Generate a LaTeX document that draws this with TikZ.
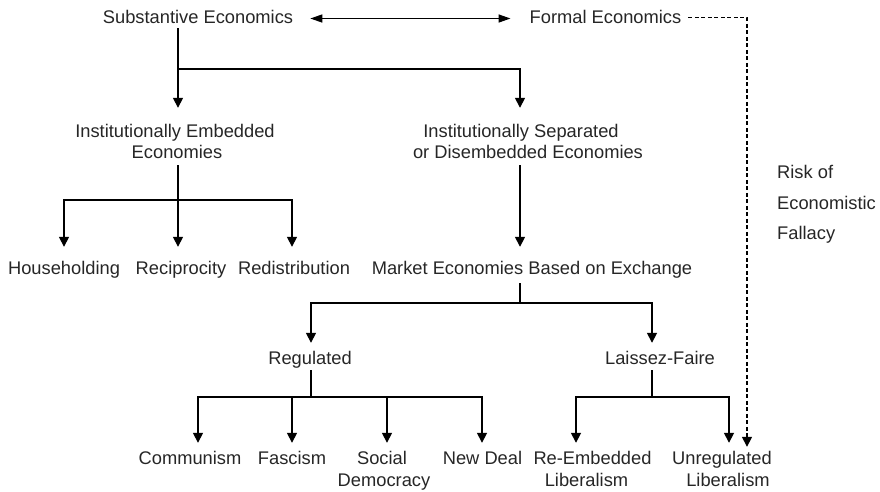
\documentclass[tikz,border=0pt]{standalone}
\usepackage{fontspec}
\setmainfont{Liberation Sans}
\usetikzlibrary{arrows.meta,calc}
\definecolor{txt}{HTML}{262626}
\tikzset{
  lbl/.style={inner sep=0pt, anchor=base, text height=13pt, text depth=4pt, text=txt, font=\fontsize{18.3}{22}\selectfont},
  lblw/.style={lbl, anchor=base west},
  ln/.style={line width=1.6pt, black},
  arr/.style={ln, -{Triangle[width=10pt,length=10pt]}},
  dbl/.style={line width=1.4pt, black, {Triangle[width=8pt,length=12pt]}-{Triangle[width=8pt,length=12pt]}},
  dsh/.style={line width=1.5pt, black, dash pattern=on 4pt off 2.5pt, -{Triangle[width=10pt,length=10pt]}}
}
\begin{document}
\begin{tikzpicture}[x=1pt,y=-1pt]
\useasboundingbox (0,0) rectangle (880,491);
% nodes
\node[lbl] (sub) at (198,23) {Substantive Economics};
\node[lbl] (formal) at (605.5,23) {Formal Economics};
\node[lbl] (emb) at (175,137) {Institutionally Embedded};
\node[lbl] (emb2) at (177,158) {Economies};
\node[lbl] (sep) at (521,137) {Institutionally Separated};
\node[lbl] (sep2) at (528,158) {or Disembedded Economies};
\node[lblw] (risk1) at (777,178) {Risk of};
\node[lblw] (risk2) at (777,209) {Economistic};
\node[lblw] (risk3) at (777,239) {Fallacy};
\node[lbl] (hh) at (64,274) {Householding};
\node[lbl] (rec) at (181,274) {Reciprocity};
\node[lbl] (red) at (294,274) {Redistribution};
\node[lbl] (mkt) at (532,274) {Market Economies Based on Exchange};
\node[lbl] (regd) at (310,364) {Regulated};
\node[lbl] (lf) at (660,364) {Laissez-Faire};
\node[lbl] (comm) at (190,464) {Communism};
\node[lbl] (fasc) at (292,464) {Fascism};
\node[lbl] (soc) at (382,464) {Social};
\node[lbl] (soc2) at (384,486) {Democracy};
\node[lbl] (nd) at (482.5,464) {New Deal};
\node[lbl] (reemb) at (592.5,464) {Re-Embedded};
\node[lbl] (reemb2) at (586.5,486) {Liberalism};
\node[lbl] (unreg) at (722,464) {Unregulated};
\node[lbl] (unreg2) at (728,486) {Liberalism};
% connectors
\draw[dbl] ($(sub.east)+(17,0)$) -- ($(formal.west)+(-19,0)$);
\draw[dsh] ($(formal.east)+(7,-1)$) -| ($(unreg.north)+(25,-4)$);
\draw[arr] ($(sub.south)+(-20,1)$) -- ($(emb.north)+(3,-16)$);
\draw[arr] ($(sub.south)+(-20,42)$) -| ($(sep.north)+(-1,-16)$);
% embedded
\draw[ln] ($(emb2.south)+(1,3)$) -- ++(0,35) coordinate (j2);
\draw[arr] (j2) -- ($(rec.north)+(-3,-14)$);
\draw[arr] (j2) -| ($(hh.north)+(0,-14)$);
\draw[arr] (j2) -| ($(red.north)+(-2,-14)$);
% separated
\draw[arr] ($(sep2.south)+(-8,3)$) -- ($(mkt.north)+(-12,-14)$);
\draw[ln] ($(mkt.south)+(-12,5)$) -- ++(0,20) coordinate (j3);
\draw[arr] (j3) -| ($(regd.north)+(1,-8)$);
\draw[arr] (j3) -| ($(lf.north)+(-8,-8)$);
% regulated
\draw[ln] ($(regd.south)+(1,2)$) -- ++(0,27) coordinate (j4);
\draw[arr] (j4) -| ($(comm.north)+(8,-8)$);
\draw[arr] (j4) -| ($(fasc.north)+(0,-8)$);
\draw[arr] (j4) -| ($(soc.north)+(5,-8)$);
\draw[arr] (j4) -| ($(nd.north)+(-0.5,-8)$);
% laissez-faire
\draw[ln] ($(lf.south)+(-8,2)$) -- ++(0,27) coordinate (j5);
\draw[arr] (j5) -| ($(reemb.north)+(-16.5,-8)$);
\draw[arr] (j5) -| ($(unreg.north)+(7,-8)$);
\end{tikzpicture}
\end{document}
